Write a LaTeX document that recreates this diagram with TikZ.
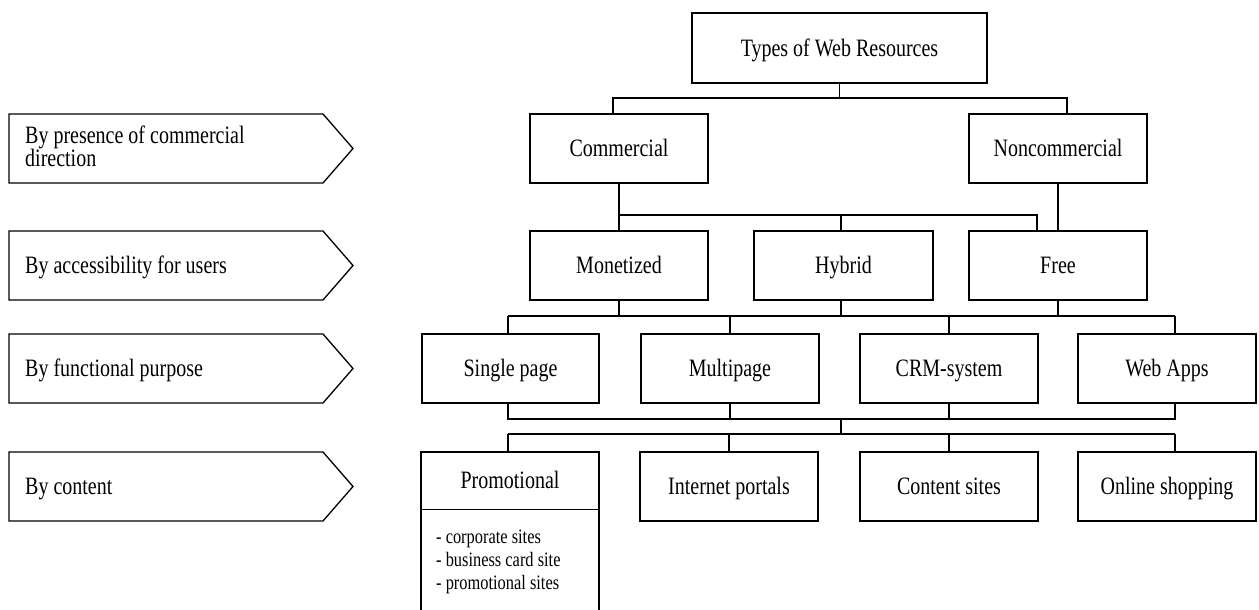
\documentclass[tikz,border=0pt]{standalone}
\usepackage{fontspec}
\setmainfont{Liberation Serif}
\newcommand{\nt}[1]{\scalebox{0.8}[1]{#1}}
\begin{document}
\begin{tikzpicture}[x=1pt,y=-1pt,
  box/.style={draw, line width=1.7pt, inner sep=0pt, minimum width=178pt, minimum height=69pt,
    text height=16.5pt, text depth=0pt, font=\fontsize{25}{21}\selectfont},
  conn/.style={line width=1.3pt},
  lab/.style={anchor=west, inner sep=0pt, font=\fontsize{25}{21}\selectfont, align=left},
  labone/.style={lab, text height=16.5pt, text depth=0pt},
  arrowbox/.style={draw, line width=1.3pt, line join=miter},
]
\useasboundingbox (0,0) rectangle (1259,610);

% left category arrows
\draw[arrowbox] (9,114) -- (323,114) -- (353,148.5) -- (323,183) -- (9,183) -- cycle;
\node[lab] (l1) at (25,149.5) {\nt{\begin{tabular}{@{}l@{}}By presence of commercial\\direction\end{tabular}}};
\draw[arrowbox] (9,231) -- (323,231) -- (353,265.5) -- (323,300) -- (9,300) -- cycle;
\node[labone] (l2) at (25,265.5) {\nt{By accessibility for users}};
\draw[arrowbox] (9,334) -- (323,334) -- (353,368.5) -- (323,403) -- (9,403) -- cycle;
\node[labone] (l3) at (25,368.5) {\nt{By functional purpose}};
\draw[arrowbox] (9,452) -- (323,452) -- (353,486.5) -- (323,521) -- (9,521) -- cycle;
\node[labone] (l4) at (25,486.5) {\nt{By content}};

% tree nodes
\node[box, minimum width=295pt, minimum height=70pt] (top) at (839.5,48) {\nt{Types of Web Resources}};
\node[box] (com) at (619,148.5) {\nt{Commercial}};
\node[box] (nonc) at (1058,148.5) {\nt{Noncommercial}};

\node[box] (mon) at (619,265.5) {\nt{Monetized}};
\node[box, minimum width=179pt] (hyb) at (843.5,265.5) {\nt{Hybrid}};
\node[box] (free) at (1058,265.5) {\nt{Free}};

\node[box, minimum width=177pt] (single) at (510.5,368.5) {\nt{Single page}};
\node[box] (multi) at (730,368.5) {\nt{Multipage}};
\node[box] (crm) at (949,368.5) {\nt{CRM-system}};
\node[box] (web) at (1167,368.5) {\nt{Web Apps}};

\node[inner sep=0pt, minimum width=178pt, minimum height=57pt, text height=16.5pt, text depth=0pt,
  font=\fontsize{25}{21}\selectfont] (promo) at (510,480.5) {\nt{Promotional}};
\draw[line width=1.7pt] (421,611) -- (421,452) -- (599,452) -- (599,611);
\draw[line width=1pt] (421,509) -- (599,509);
\node[anchor=north west, inner sep=0pt, font=\fontsize{20.5}{23}\selectfont] (plist) at (436,527)
  {\nt{\begin{tabular}{@{}l@{}}- corporate sites\\- business card site\\- promotional sites\end{tabular}}};
\node[box] (portal) at (729,486.5) {\nt{Internet portals}};
\node[box] (content) at (949,486.5) {\nt{Content sites}};
\node[box] (online) at (1167,486.5) {\nt{Online shopping}};

% connectors level 1
\coordinate (b1L) at (613,98);
\coordinate (b1R) at (1067,98);
\draw[conn] (top.south) -- (top.south |- b1L);
\draw[conn] (com.north -| b1L) -- (b1L) -- (b1R) -- (nonc.north -| b1R);

% level 2
\coordinate (b2L) at (619,215);
\coordinate (b2M) at (841,215);
\coordinate (b2R) at (1037,215);
\draw[conn] (com.south) -- (mon.north);
\draw[conn] (b2L) -- (b2R) -- (free.north -| b2R);
\draw[conn] (b2M) -- (hyb.north -| b2M);
\draw[conn] (nonc.south) -- (free.north);

% level 3
\coordinate (b3L) at (508,316);
\coordinate (b3R) at (1175,316);
\draw[conn] (b3L) -- (b3R);
\draw[conn] (mon.south) -- (mon.south |- b3L);
\draw[conn] (hyb.south -| b2M) -- (b2M |- b3L);
\draw[conn] (free.south) -- (free.south |- b3L);
\draw[conn] (b3L) -- (single.north -| b3L);
\draw[conn] (multi.north) -- (multi.north |- b3L);
\draw[conn] (crm.north) -- (crm.north |- b3L);
\draw[conn] (b3R) -- (web.north -| b3R);

% level 4
\coordinate (b4L) at (508,419);
\coordinate (b4M) at (841,419);
\coordinate (b4R) at (1175,419);
\coordinate (b5L) at (508,434);
\coordinate (b5M) at (841,434);
\coordinate (b5R) at (1175,434);
\draw[conn] (single.south -| b4L) -- (b4L) -- (b4R) -- (web.south -| b4R);
\draw[conn] (multi.south) -- (multi.south |- b4L);
\draw[conn] (crm.south) -- (crm.south |- b4L);
\draw[conn] (b4M) -- (b5M);
\draw[conn] (b5L) -- (b5R);
\draw[conn] (b5L) -- (promo.north -| b5L);
\draw[conn] (portal.north) -- (portal.north |- b5L);
\draw[conn] (content.north) -- (content.north |- b5L);
\draw[conn] (b5R) -- (online.north -| b5R);
\end{tikzpicture}
\end{document}
